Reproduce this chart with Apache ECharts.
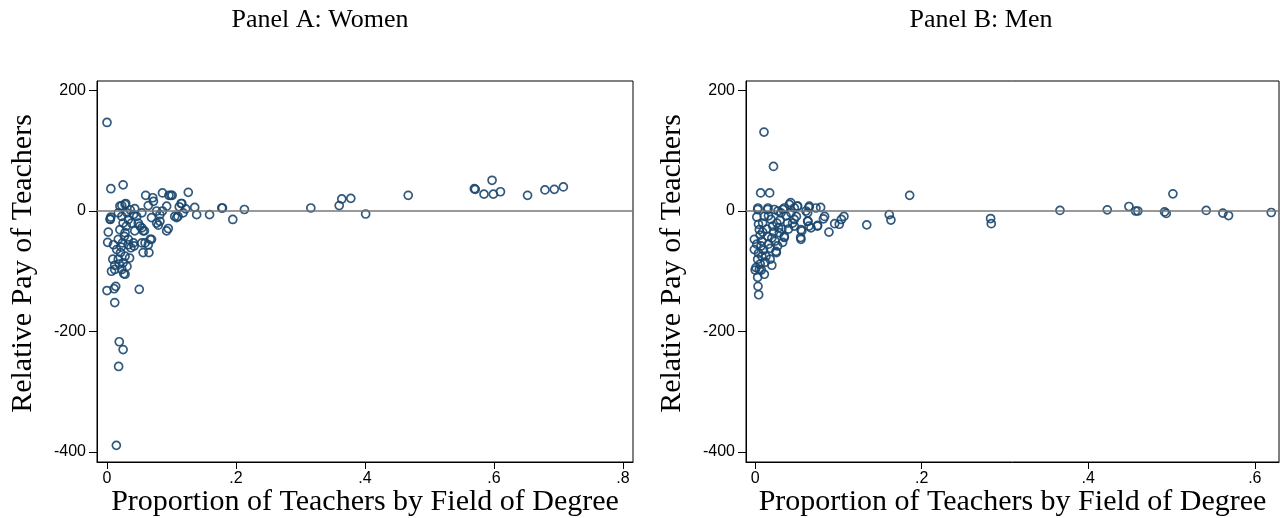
<!DOCTYPE html>
<html>
<head>
<meta charset="utf-8">
<script src="https://cdn.jsdelivr.net/npm/echarts@6.0.0/dist/echarts.min.js"></script>
<style>
body { margin: 0; background: #fff; }
#chart { width: 1286px; height: 518px; }
</style>
</head>
<body>
<div id="chart"></div>
<script>
// proportion of teachers by field of degree vs relative pay of teachers
var panelTitles = ['Panel A: Women', 'Panel B: Men'];
var xTitle = 'Proportion of Teachers by Field of Degree';
var yTitle = 'Relative Pay of Teachers';
var yTicks = [-400, -200, 0, 200];
var xTicksWomen = [0, 0.2, 0.4, 0.6, 0.8];
var xTicksMen = [0, 0.2, 0.4, 0.6];

var women = [
  [0.0,147],[0.006,37],[0.025,43.5],[0.06,26],[0.071,22],[0.086,30],[0.099,26],[0.126,31],
  [0.116,12.5],[0.136,6],[0.139,-6],[0.159,-6],[0.178,5],[0.179,5],[0.195,-14],[0.213,2.5],
  [0.11,-9],[0.105,-9],[0.0925,-33],[0.095,-29],[0.0795,-23.5],[0.067,-47],[0.059,-53],
  [0.064,-56],[0.056,-69],[0.065,-69],[0.002,-35],[0.001,-52],[0.006,-10],[0.005,-14],
  [0.043,4],[0.023,9],[0.029,12.5],[0.096,26],[0.101,26],[0.115,12.5],[0.112,7],[0.122,3.5],
  [0.118,-3],[0.108,-11],[0.086,0],[0.0925,8],[0.064,9],[0.072,16],[0.077,0],[0.082,-6],
  [0.077,-20],[0.082,-17],[0.069,-11],[0.054,-3],[0.0485,-20],[0.054,-28],[0.043,-33],
  [0.058,-33],[0.042,-58],[0.054,-53],[0.033,-56],
  [0.0,-132],[0.011,-129],[0.0135,-125],[0.012,-152],[0.019,-217],[0.025,-230],[0.018,-258],
  [0.0145,-389],[0.05,-130],[0.007,-100],[0.026,-104],[0.031,-92],
  [0.005,-13],[0.01,-56],[0.009,-80],[0.012,-97],[0.02,8],[0.028,11],[0.0175,-3],[0.023,-9],
  [0.031,-3],[0.025,-20],[0.02,-31],[0.028,-36],[0.0175,-47],[0.024,-53],[0.015,-64],
  [0.021,-69],[0.028,-75],[0.0175,-80],[0.025,-86],[0.012,-90],[0.041,-6],[0.038,-20],
  [0.036,2],[0.046,-9],[0.051,-25],[0.056,-33],[0.041,-53],[0.069,-47],[0.037,-61],
  [0.035,-78],[0.023,-97],[0.028,-105],[0.033,-47],[0.027,-42],[0.030,-25],[0.022,-60],
  [0.019,-88],[0.033,-14],
  [0.316,5],[0.36,9],[0.364,20],[0.378,21],[0.401,-5],[0.467,26],[0.5695,37],[0.571,36],
  [0.5845,28],[0.597,51],[0.599,28],[0.61,32],[0.652,26],[0.679,35],[0.6935,36],[0.7075,40]
];

var men = [
  [0.0106,131],[0.022,74],[0.0066,30],[0.0174,30],[0.1855,26],[0.161,-6],[0.163,-15],
  [0.134,-23],[0.1066,-9],[0.1035,-14],[0.101,-22],[0.0955,-21],[0.0886,-35],[0.0834,-9],
  [0.082,-13],[0.0786,6],[0.0747,-25],[0.0646,-25],[0.0634,-17],[0.056,-33],[0.0546,-44],
  [0.0646,6],[0.061,0],[0.0507,8],[0.0426,14],[0.047,5],[0.0495,-9],[0.045,-20],[0.035,-44],
  [0.0255,-69],[0.0034,5],[0.0154,5],[0.0274,0],[0.0334,2.5],
  [0.2827,-12.5],[0.2835,-21],[0.366,1],[0.4228,2],[0.4488,7.5],[0.4568,0],[0.4595,0],
  [0.4916,-1.5],[0.4936,-4],[0.5016,28.5],[0.5416,1],[0.5616,-3.5],[0.5684,-7.5],[0.6197,-2.5],
  [0.0034,-125],[0.0042,-139],[0.0,-98],[0.0074,-98],
  [0.003,2.5],[0.015,2.5],[0.041,11],[0.051,8],[0.065,8],[0.073,5],[0.063,-3],[0.063,-17],
  [0.067,-28],[0.075,-24],[0.055,-31],[0.055,-47],[0.025,-67],[-0.001,-47],[-0.001,-64],
  [0.001,-94],[0.005,-97],[0.009,-20],[0.019,-14],[0.031,-3],[0.039,-20],[0.029,-36],
  [0.015,-42],[0.007,-58],[0.013,-75],[0.003,-80],[0.035,-42],[0.047,-25],[0.021,-25],
  [0.005,-31],[0.011,-9],[0.023,2.5],[0.035,5],[0.043,-3],[0.047,-14],
  [0.002,-10],[0.004,-22],[0.006,-40],[0.008,-50],[0.010,-65],[0.012,-85],[0.004,-70],
  [0.006,-88],[0.002,-55],[0.009,-35],[0.014,-30],[0.016,-55],[0.018,-62],[0.020,-45],
  [0.022,-35],[0.024,-50],[0.026,-20],[0.028,-28],[0.030,-15],[0.032,-30],[0.027,-58],
  [0.018,-80],[0.011,-105],[0.008,-75],[0.016,-8],[0.037,-8],[0.040,-30],[0.033,-52],
  [0.020,-90],[0.003,-110]
];

var navy = '#1a476f';
var serif = '"Liberation Serif", "DejaVu Serif", serif';
var sans = '"Liberation Sans", Arial, sans-serif';

function xLabel(v) {
  if (v === 0) return '0';
  return String(+v.toFixed(1)).replace(/^0/, '');
}

function makeXAxis(idx, min, max, ticks) {
  return {
    type: 'value', gridIndex: idx, min: min, max: max,
    name: xTitle, nameLocation: 'middle', nameGap: 25, nameMoveOverlap: false,
    nameTextStyle: { fontFamily: serif, fontSize: 30, color: '#000' },
    axisLine: { show: true, onZero: false, lineStyle: { color: '#000', width: 1 } },
    axisTick: { show: true, length: 7, customValues: ticks, lineStyle: { color: '#000' } },
    axisLabel: { customValues: ticks, formatter: xLabel, margin: 9,
      fontFamily: sans, fontSize: 16, color: '#000' },
    splitLine: { show: false }
  };
}

function makeYAxis(idx) {
  return {
    type: 'value', gridIndex: idx, min: -416.6, max: 215.8,
    name: yTitle, nameLocation: 'middle', nameGap: 59, nameMoveOverlap: false,
    nameTextStyle: { fontFamily: serif, fontSize: 30, color: '#000', padding: [0, 0, 0, 16] },
    axisLine: { show: true, onZero: false, lineStyle: { color: '#000', width: 1 } },
    axisTick: { show: true, length: 8, customValues: yTicks, lineStyle: { color: '#000' } },
    axisLabel: { customValues: yTicks, margin: 11, fontFamily: sans, fontSize: 16, color: '#000' },
    splitLine: { show: false }
  };
}

function makeSeries(idx, data) {
  return {
    type: 'scatter', xAxisIndex: idx, yAxisIndex: idx, data: data,
    symbol: 'circle', symbolSize: 8,
    itemStyle: { color: 'rgba(0,0,0,0)', borderColor: navy, borderWidth: 1.7, opacity: 0.9 },
    markLine: {
      silent: true, symbol: 'none', label: { show: false },
      lineStyle: { color: '#777', width: 1.5, type: 'solid' },
      data: [{ yAxis: 0 }]
    },
    z: 3
  };
}

var chart = echarts.init(document.getElementById('chart'), null, { renderer: 'canvas' });
chart.setOption({
  backgroundColor: '#fff',
  animation: false,
  grid: [
    { left: 97, top: 81, width: 536, height: 381, outerBoundsMode: 'none',
      show: true, borderColor: '#000', borderWidth: 1 },
    { left: 746, top: 81, width: 533, height: 381, outerBoundsMode: 'none',
      show: true, borderColor: '#000', borderWidth: 1 }
  ],
  xAxis: [
    makeXAxis(0, -0.0155, 0.8155, xTicksWomen),
    makeXAxis(1, -0.011, 0.629, xTicksMen)
  ],
  yAxis: [makeYAxis(0), makeYAxis(1)],
  graphic: [
    { type: 'text', x: 320, y: 20, style: { text: panelTitles[0], font: '26px ' + serif,
      fill: '#000', textAlign: 'center', textVerticalAlign: 'middle' } },
    { type: 'text', x: 981, y: 20, style: { text: panelTitles[1], font: '26px ' + serif,
      fill: '#000', textAlign: 'center', textVerticalAlign: 'middle' } }
  ],
  series: [makeSeries(0, women), makeSeries(1, men)]
});
</script>
</body>
</html>
